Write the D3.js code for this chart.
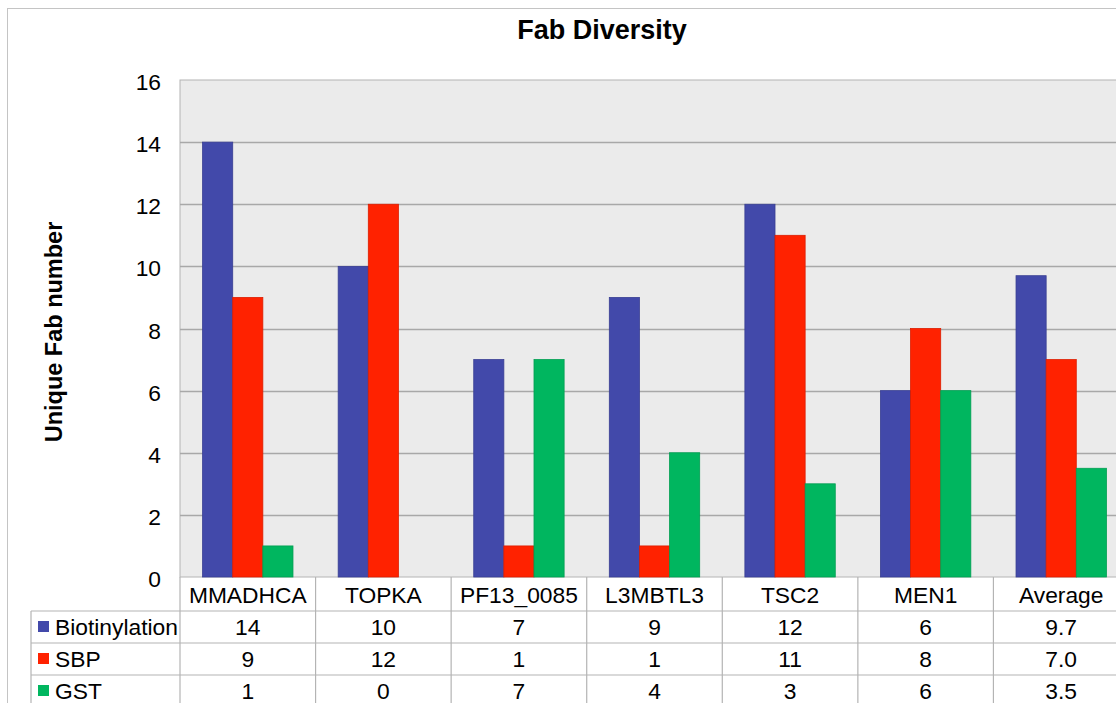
<!DOCTYPE html>
<html>
<head>
<meta charset="utf-8">
<script src="https://cdn.jsdelivr.net/npm/d3@7"></script>
<style>
  body { margin: 0; background: #fff; }
  svg { display: block; font-family: "Liberation Sans", Arial, sans-serif; }
</style>
</head>
<body>
<svg></svg>
<script>
const width = 1116;
const height = 703;

// data
const categories = ['MMADHCA', 'TOPKA', 'PF13_0085', 'L3MBTL3', 'TSC2', 'MEN1', 'Average'];
const seriesNames = ['Biotinylation', 'SBP', 'GST'];
const biotinylation = [14, 10, 7, 9, 12, 6, 9.7];
const sbp = [9, 12, 1, 1, 11, 8, 7.0];
const gst = [1, 0, 7, 4, 3, 6, 3.5];
const colors = ['#4249aa', '#ff2200', '#00b65f'];
const yTicks = [0, 2, 4, 6, 8, 10, 12, 14, 16];

const seriesValues = [biotinylation, sbp, gst];

const plot = { left: 180, top: 80, bottom: 577, right: 1129 };
const rowH = 32;
const fs = 22.8;

const svg = d3.select('svg')
  .attr('width', width)
  .attr('height', height);

// outer chart border (runs off the picture on the right / bottom)
svg.append('rect')
  .attr('x', 7.5).attr('y', 8.5)
  .attr('width', 1140).attr('height', 720)
  .attr('fill', 'none')
  .attr('stroke', '#c4c4c4');

const x = d3.scaleBand()
  .domain(categories)
  .range([plot.left, plot.right]);

const xSub = d3.scaleBand()
  .domain(seriesNames)
  .range([0, x.bandwidth()])
  .paddingOuter(0.75);

const y = d3.scaleLinear()
  .domain([0, 16])
  .range([plot.bottom, plot.top]);

// plot area
svg.append('rect')
  .attr('x', plot.left).attr('y', plot.top)
  .attr('width', plot.right - plot.left)
  .attr('height', plot.bottom - plot.top)
  .attr('fill', '#ebebeb')
  .attr('stroke', '#b4b4b4');

svg.append('g')
  .selectAll('line')
  .data(yTicks.slice(1, -1))
  .enter()
  .append('line')
    .attr('x1', plot.left).attr('x2', plot.right)
    .attr('y1', d => Math.round(y(d)) + 0.5)
    .attr('y2', d => Math.round(y(d)) + 0.5)
    .attr('stroke', '#a8a8a8')
    .attr('stroke-width', 1.5);

// y axis labels
const yAxis = svg.append('g')
  .attr('transform', `translate(${plot.left},0)`)
  .call(d3.axisLeft(y).tickValues(yTicks).tickSize(0).tickPadding(19));
yAxis.select('.domain').remove();
yAxis.selectAll('text')
  .attr('font-size', fs)
  .attr('font-family', '"Liberation Sans", Arial, sans-serif')
  .attr('fill', '#000')
  .attr('dy', '0.42em');

// bars
const bars = [];
seriesNames.forEach((s, si) => {
  categories.forEach((c, ci) => {
    bars.push({ series: s, cat: c, value: seriesValues[si][ci], color: colors[si] });
  });
});

svg.append('g')
  .selectAll('rect')
  .data(bars.filter(d => d.value > 0))
  .enter()
  .append('rect')
    .attr('x', d => x(d.cat) + xSub(d.series))
    .attr('y', d => y(d.value))
    .attr('width', xSub.bandwidth())
    .attr('height', d => y(0) - y(d.value))
    .attr('fill', d => d.color)
    .attr('stroke', d => d3.color(d.color).darker(0.4))
    .attr('stroke-width', 0.8);

// data table
const table = svg.append('g').attr('stroke', '#b4b4b4').attr('stroke-width', 1.2);
const tableLeft = 31;
const tableBottom = plot.bottom + rowH * 4 + 2;

// horizontal rules
for (let r = 1; r <= 3; r++) {
  const ry = plot.bottom + 2 + rowH * r;
  table.append('line')
    .attr('x1', tableLeft).attr('x2', plot.right)
    .attr('y1', ry).attr('y2', ry);
}
// vertical rules
table.append('line')
  .attr('x1', tableLeft).attr('x2', tableLeft)
  .attr('y1', plot.bottom + 2 + rowH).attr('y2', tableBottom);
categories.forEach(c => {
  table.append('line')
    .attr('x1', x(c)).attr('x2', x(c))
    .attr('y1', plot.bottom).attr('y2', tableBottom);
});

// header row: category names
svg.append('g')
  .selectAll('text')
  .data(categories)
  .enter()
  .append('text')
    .attr('x', d => x(d) + x.bandwidth() / 2)
    .attr('y', plot.bottom + 2 + rowH / 2)
    .attr('dy', '0.36em')
    .attr('text-anchor', 'middle')
    .attr('font-size', fs)
    .text(d => d);

// legend keys + values
seriesNames.forEach((s, si) => {
  const cy = plot.bottom + 2 + rowH * (si + 1) + rowH / 2;
  svg.append('rect')
    .attr('x', 38).attr('y', cy - 6)
    .attr('width', 11).attr('height', 11)
    .attr('fill', colors[si]);
  svg.append('text')
    .attr('x', 55).attr('y', cy)
    .attr('dy', '0.36em')
    .attr('font-size', fs)
    .text(s);
  svg.append('g')
    .selectAll('text')
    .data(seriesValues[si])
    .enter()
    .append('text')
      .attr('x', (d, i) => x(categories[i]) + x.bandwidth() / 2)
      .attr('y', cy)
      .attr('dy', '0.36em')
      .attr('text-anchor', 'middle')
      .attr('font-size', fs)
      .text((d, i) => categories[i] === 'Average' ? d3.format('.1f')(d) : d);
});

// titles
svg.append('text')
  .attr('x', 602).attr('y', 39)
  .attr('text-anchor', 'middle')
  .attr('font-size', 27)
  .attr('font-weight', 'bold')
  .text('Fab Diversity');

svg.append('text')
  .attr('transform', 'translate(62,332) rotate(-90)')
  .attr('text-anchor', 'middle')
  .attr('font-size', 23.5)
  .attr('font-weight', 'bold')
  .text('Unique Fab number');
</script>
</body>
</html>
